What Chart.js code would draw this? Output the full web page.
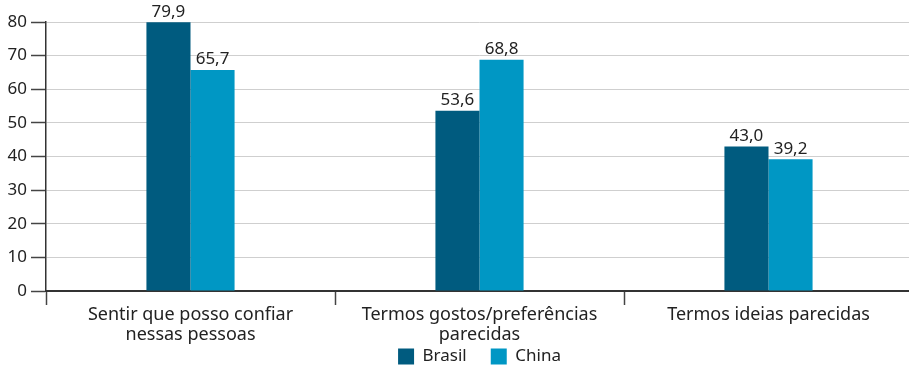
<!DOCTYPE html>
<html>
<head>
<meta charset="utf-8">
<script src="https://cdn.jsdelivr.net/npm/chart.js@4/dist/chart.umd.min.js"></script>
<style>
  html, body { margin: 0; padding: 0; background: #fff; overflow: hidden; }
  #wrap { width: 913px; height: 368px; }
</style>
</head>
<body>
<div id="wrap"><canvas id="barChart"></canvas></div>
<script>
const categories = [
    ['Sentir que posso confiar', 'nessas pessoas'],
    ['Termos gostos/preferências', 'parecidas'],
    'Termos ideias parecidas'
];
const brasilValues = [79.9, 53.6, 43.0];
const chinaValues = [65.7, 68.8, 39.2];
const yTicks = [0, 10, 20, 30, 40, 50, 60, 70, 80];

const fontFamily = '"Noto Sans", "Open Sans", sans-serif';

// writes the value over each bar, with a decimal comma
const valueLabels = {
    id: 'valueLabels',
    afterDatasetsDraw(chart) {
        const ctx = chart.ctx;
        ctx.save();
        ctx.font = '17px ' + fontFamily;
        ctx.fillStyle = '#222';
        ctx.textAlign = 'center';
        ctx.textBaseline = 'bottom';
        chart.data.datasets.forEach((ds, i) => {
            chart.getDatasetMeta(i).data.forEach((bar, j) => {
                const txt = ds.data[j].toFixed(1).replace('.', ',');
                ctx.fillText(txt, bar.x, bar.y - 2);
            });
        });
        ctx.restore();
    }
};

const ctx = document.getElementById('barChart').getContext('2d');

new Chart(ctx, {
    type: 'bar',
    data: {
        labels: categories,
        datasets: [
            {
                label: 'Brasil',
                data: brasilValues,
                backgroundColor: '#005b7f',
                categoryPercentage: 0.305,
                barPercentage: 1
            },
            {
                label: 'China',
                data: chinaValues,
                backgroundColor: '#0097c4',
                categoryPercentage: 0.305,
                barPercentage: 1
            }
        ]
    },
    options: {
        responsive: true,
        maintainAspectRatio: false,
        animation: false,
        layout: { padding: { top: 22, right: 0, bottom: 0, left: 0 } },
        plugins: {
            legend: {
                position: 'bottom',
                fullSize: false,
                maxHeight: 44,
                labels: {
                    boxWidth: 16,
                    boxHeight: 16,
                    padding: 24,
                    color: '#222',
                    font: { family: fontFamily, size: 17 }
                }
            },
            tooltip: { enabled: false }
        },
        scales: {
            x: {
                offset: true,
                afterFit(scale) {
                    scale.height = 33;
                    // let the second label line run below the scale box
                    scale._computeLabelArea = () => undefined;
                },
                grid: {
                    offset: true,
                    drawOnChartArea: false,
                    drawTicks: true,
                    tickLength: 14,
                    tickColor: '#444',
                    tickWidth: 1.5
                },
                border: { display: true, color: '#333', width: 2 },
                ticks: {
                    padding: 0,
                    color: '#222',
                    maxRotation: 0,
                    autoSkip: false,
                    font: { family: fontFamily, size: 18, lineHeight: 1.1 }
                }
            },
            y: {
                min: 0,
                max: 80,
                afterFit(scale) { scale.width = 46; },
                afterBuildTicks(scale) { scale.ticks = yTicks.map(v => ({ value: v })); },
                grid: {
                    color: '#cfcfcf',
                    lineWidth: 1,
                    drawTicks: true,
                    tickLength: 15,
                    tickColor: '#444',
                    tickWidth: 1.5
                },
                border: { display: true, color: '#333', width: 1.5 },
                ticks: {
                    padding: 4,
                    color: '#222',
                    font: { family: fontFamily, size: 17 }
                }
            }
        }
    },
    plugins: [valueLabels]
});
</script>
</body>
</html>
